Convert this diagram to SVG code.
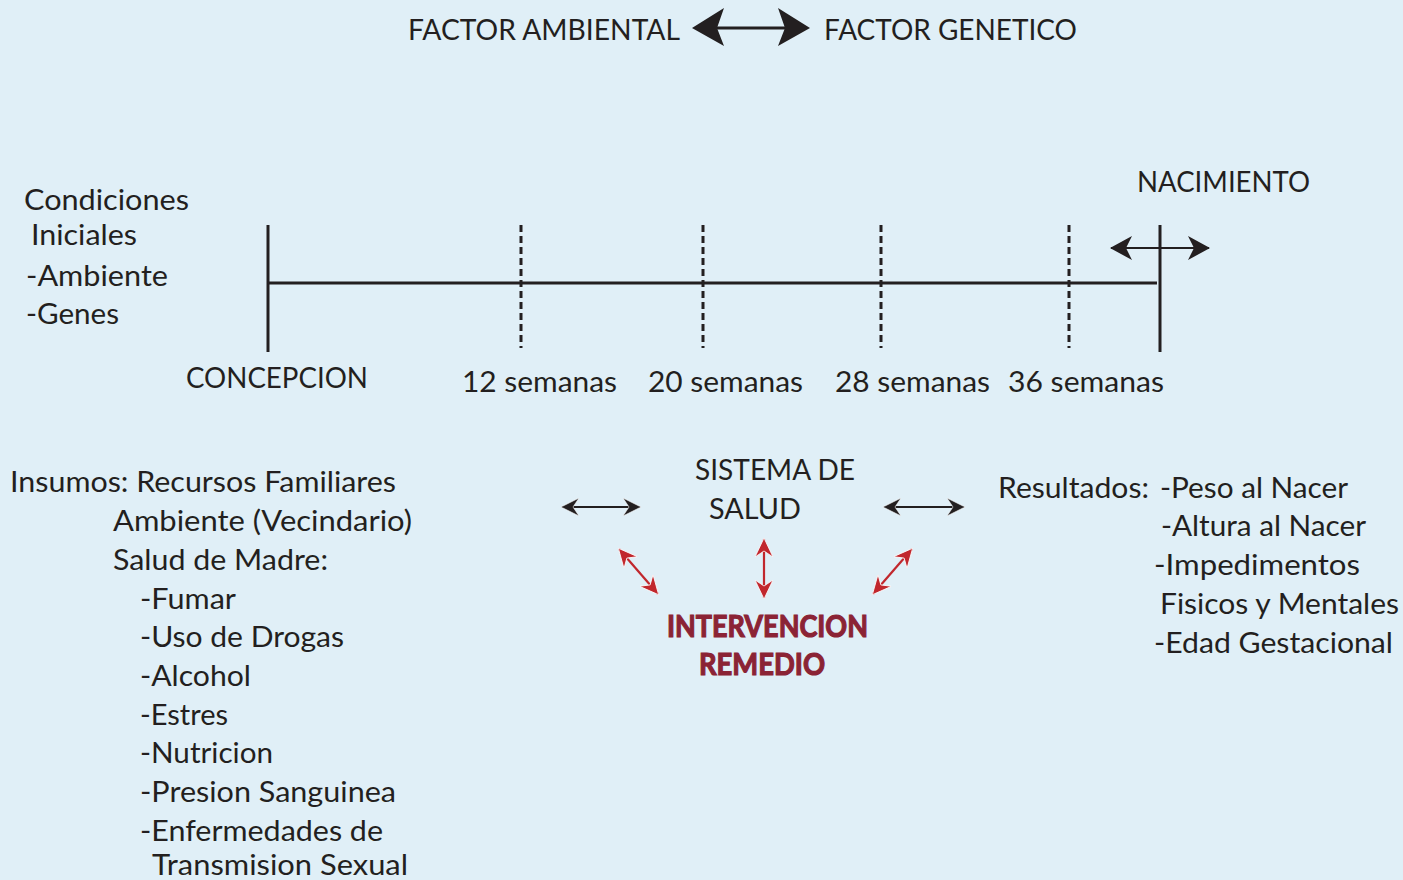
<svg xmlns="http://www.w3.org/2000/svg" width="1403" height="880" viewBox="0 0 1403 880">
<style>
text{font-family:Lato,"Open Sans","Liberation Sans",sans-serif;font-size:29px;fill:#231f20}
.red{font-weight:bold;fill:#8b2335;stroke:#8b2335;stroke-width:1.2;font-size:31px}
.ln{stroke:#231f20;stroke-width:3;fill:none}
.dot{stroke:#231f20;stroke-width:3;stroke-dasharray:7,4;fill:none}
.ar{stroke:#231f20;stroke-width:2;fill:none}
.rar{stroke:#c1272d;stroke-width:2.2;fill:none}
</style>
<defs>
<marker id="mb" viewBox="0 0 18 18" refX="17" refY="9" markerWidth="18" markerHeight="18" markerUnits="userSpaceOnUse" orient="auto-start-reverse"><path d="M0,0 L18,9 L0,18 L6,9 z" fill="#231f20" stroke="#fff" stroke-width="0.6"/></marker>
<marker id="mn" viewBox="0 0 22 24" refX="21" refY="12" markerWidth="22" markerHeight="24" markerUnits="userSpaceOnUse" orient="auto-start-reverse"><path d="M0,0 L22,12 L0,24 L6,12 z" fill="#231f20"/></marker>
<marker id="mr" viewBox="0 0 19 18" refX="18" refY="9" markerWidth="19" markerHeight="18" markerUnits="userSpaceOnUse" orient="auto-start-reverse"><path d="M0,0 L19,9 L0,18 L6,9 z" fill="#c1272d" stroke="#fff" stroke-width="0.8"/></marker>
</defs>
<rect width="1403" height="880" fill="#e0eff7"/>

<g id="connectors">
<line x1="716" y1="28" x2="786" y2="28" stroke="#231f20" stroke-width="3"/>
<path d="M692,28 L724,8 L717,28 L724,46 z" fill="#231f20"/>
<path d="M810,28 L778,8 L785,28 L778,46 z" fill="#231f20"/>
<line class="ar" x1="1111" y1="248" x2="1209" y2="248" marker-start="url(#mn)" marker-end="url(#mn)" stroke-width="3"/>
<line class="ar" x1="562" y1="507" x2="640" y2="507" marker-start="url(#mb)" marker-end="url(#mb)"/>
<line class="ar" x1="884" y1="507" x2="964" y2="507" marker-start="url(#mb)" marker-end="url(#mb)"/>
<line class="rar" x1="619" y1="549" x2="658" y2="594" marker-start="url(#mr)" marker-end="url(#mr)"/>
<line class="rar" x1="764" y1="539" x2="764" y2="598" marker-start="url(#mr)" marker-end="url(#mr)"/>
<line class="rar" x1="912" y1="549" x2="873" y2="594" marker-start="url(#mr)" marker-end="url(#mr)"/>
</g>

<g id="timeline">
<line class="ln" x1="268" y1="225" x2="268" y2="352"/>
<line class="ln" x1="268" y1="283" x2="1157" y2="283"/>
<line class="ln" x1="1160" y1="225" x2="1160" y2="352"/>
<line class="dot" x1="521" y1="225" x2="521" y2="348"/>
<line class="dot" x1="703" y1="225" x2="703" y2="348"/>
<line class="dot" x1="881" y1="225" x2="881" y2="348"/>
<line class="dot" x1="1069" y1="225" x2="1069" y2="348"/>
</g>

<g id="factor-ambiental"><text x="408" y="40" textLength="272" lengthAdjust="spacingAndGlyphs">FACTOR AMBIENTAL</text></g>
<g id="factor-genetico"><text x="824" y="40" textLength="253" lengthAdjust="spacingAndGlyphs">FACTOR GENETICO</text></g>
<g id="nacimiento"><text x="1137" y="192" textLength="173" lengthAdjust="spacingAndGlyphs">NACIMIENTO</text></g>

<g id="condiciones">
<text x="24" y="210" textLength="165" lengthAdjust="spacingAndGlyphs">Condiciones</text>
<text x="31" y="245" textLength="106" lengthAdjust="spacingAndGlyphs">Iniciales</text>
<text x="26" y="286" textLength="142" lengthAdjust="spacingAndGlyphs">-Ambiente</text>
<text x="26" y="324" textLength="93" lengthAdjust="spacingAndGlyphs">-Genes</text>
</g>

<g id="labels">
<text x="186" y="388" textLength="182" lengthAdjust="spacingAndGlyphs">CONCEPCION</text>
<text x="462" y="392" textLength="155" lengthAdjust="spacingAndGlyphs">12 semanas</text>
<text x="648" y="392" textLength="155" lengthAdjust="spacingAndGlyphs">20 semanas</text>
<text x="835" y="392" textLength="155" lengthAdjust="spacingAndGlyphs">28 semanas</text>
<text x="1008" y="392" textLength="156" lengthAdjust="spacingAndGlyphs">36 semanas</text>
</g>

<g id="insumos">
<text x="10" y="492" textLength="386" lengthAdjust="spacingAndGlyphs">Insumos: Recursos Familiares</text>
<text x="113" y="531" textLength="299" lengthAdjust="spacingAndGlyphs">Ambiente (Vecindario)</text>
<text x="113" y="570" textLength="215" lengthAdjust="spacingAndGlyphs">Salud de Madre:</text>
<text x="140" y="609" textLength="96" lengthAdjust="spacingAndGlyphs">-Fumar</text>
<text x="140" y="647" textLength="204" lengthAdjust="spacingAndGlyphs">-Uso de Drogas</text>
<text x="140" y="686" textLength="111" lengthAdjust="spacingAndGlyphs">-Alcohol</text>
<text x="140" y="725" textLength="88" lengthAdjust="spacingAndGlyphs">-Estres</text>
<text x="140" y="763" textLength="133" lengthAdjust="spacingAndGlyphs">-Nutricion</text>
<text x="140" y="802" textLength="256" lengthAdjust="spacingAndGlyphs">-Presion Sanguinea</text>
<text x="140" y="841" textLength="243" lengthAdjust="spacingAndGlyphs">-Enfermedades de</text>
<text x="152" y="875" textLength="256" lengthAdjust="spacingAndGlyphs">Transmision Sexual</text>
</g>

<g id="sistema-de-salud">
<text x="695" y="480" textLength="160" lengthAdjust="spacingAndGlyphs">SISTEMA DE</text>
<text x="709" y="519" textLength="92" lengthAdjust="spacingAndGlyphs">SALUD</text>
</g>

<g id="intervencion">
<text class="red" x="667" y="637" textLength="201" lengthAdjust="spacingAndGlyphs">INTERVENCION</text>
<text class="red" x="699" y="675" textLength="126" lengthAdjust="spacingAndGlyphs">REMEDIO</text>
</g>

<g id="resultados">
<text x="998" y="498" textLength="151" lengthAdjust="spacingAndGlyphs">Resultados:</text>
<text x="1160" y="498" textLength="188" lengthAdjust="spacingAndGlyphs">-Peso al Nacer</text>
<text x="1161" y="536" textLength="205" lengthAdjust="spacingAndGlyphs">-Altura al Nacer</text>
<text x="1154" y="575" textLength="206" lengthAdjust="spacingAndGlyphs">-Impedimentos</text>
<text x="1160" y="614" textLength="239" lengthAdjust="spacingAndGlyphs">Fisicos y Mentales</text>
<text x="1154" y="653" textLength="239" lengthAdjust="spacingAndGlyphs">-Edad Gestacional</text>
</g>
</svg>
